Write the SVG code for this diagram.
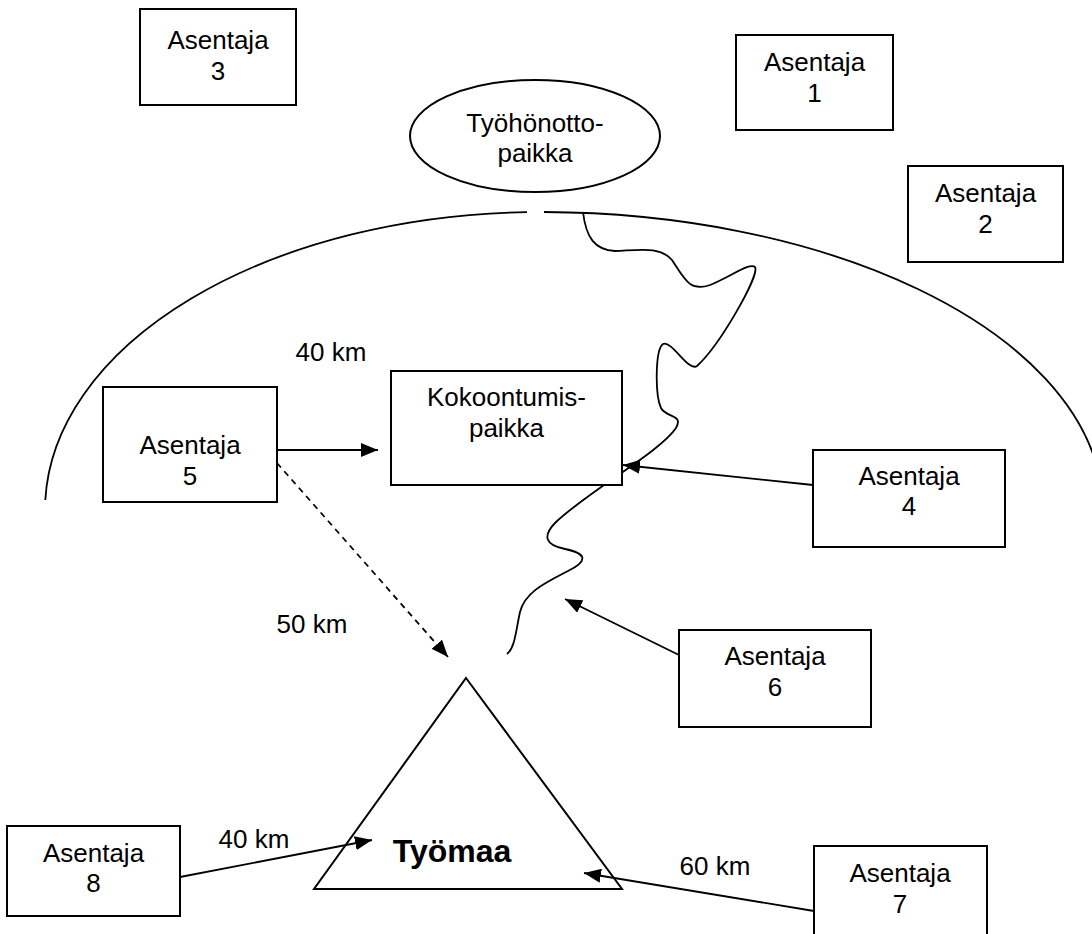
<svg xmlns="http://www.w3.org/2000/svg" width="1092" height="934" viewBox="0 0 1092 934">
<style>
.box{fill:#fff;stroke:#000;stroke-width:2}
.ln{fill:none;stroke:#000;stroke-width:1.8}
.t{font-family:"Liberation Sans",Arial,sans-serif;font-size:26px;fill:#000;text-anchor:middle}
.b{font-family:"Liberation Sans",Arial,sans-serif;font-size:32px;font-weight:bold;fill:#000;text-anchor:middle}
</style>
<defs>
<marker id="ah" markerUnits="userSpaceOnUse" markerWidth="18" markerHeight="14" refX="17" refY="7" orient="auto">
<path d="M0,0 L17,7 L0,14 z" fill="#000"/>
</marker>
</defs>
<rect width="1092" height="934" fill="#fff"/>
<g id="region">
<path class="ln" d="M 45.3 500 A 495 298 0 0 1 527 212.1"/>
<path class="ln" d="M 544 212 A 563 298 0 0 1 1100 479"/>
<path class="ln" d="M 583 212 C 586 238, 595 250, 615 251 C 640 250, 660 246, 672 260 C 685 280, 690 292, 710 285 C 730 277, 750 262, 755 267 C 760 275, 720 345, 697 366 C 688 372, 672 340, 663 344 C 655 350, 655 395, 661 408 C 666 418, 684 414, 676 428 C 660 452, 590 490, 556 522 C 542 536, 545 545, 565 549 C 585 553, 590 560, 568 571 C 545 583, 525 592, 520 612 C 516 630, 515 648, 507 654"/>
</g>
<g id="tyohonottopaikka">
<ellipse class="box" cx="535" cy="136" rx="125" ry="56"/>
<text class="t" x="535" y="132">Työhönotto-</text>
<text class="t" x="535" y="162">paikka</text>
</g>
<g id="asentaja3">
<rect class="box" x="140" y="9" width="156" height="96"/>
<text class="t" x="218" y="49">Asentaja</text>
<text class="t" x="218" y="80">3</text>
</g>
<g id="asentaja1">
<rect class="box" x="736" y="35" width="157" height="95"/>
<text class="t" x="814.5" y="71">Asentaja</text>
<text class="t" x="814.5" y="102">1</text>
</g>
<g id="asentaja2">
<rect class="box" x="908" y="166" width="155" height="96"/>
<text class="t" x="985.5" y="202">Asentaja</text>
<text class="t" x="985.5" y="233">2</text>
</g>
<g id="kokoontumispaikka">
<rect class="box" x="391" y="371" width="231" height="114"/>
<text class="t" x="506.5" y="406">Kokoontumis-</text>
<text class="t" x="506.5" y="437">paikka</text>
</g>
<g id="asentaja5">
<rect class="box" x="103" y="387" width="174" height="115"/>
<text class="t" x="190" y="454">Asentaja</text>
<text class="t" x="190" y="485">5</text>
</g>
<g id="asentaja4">
<rect class="box" x="813" y="450" width="192" height="97"/>
<text class="t" x="909" y="485">Asentaja</text>
<text class="t" x="909" y="515">4</text>
</g>
<g id="asentaja6">
<rect class="box" x="679" y="630" width="192" height="97"/>
<text class="t" x="775" y="665">Asentaja</text>
<text class="t" x="775" y="696">6</text>
</g>
<g id="tyomaa">
<path class="box" d="M 466 678 L 622 889 L 314 889 Z"/>
<text class="b" x="452" y="862">Työmaa</text>
</g>
<g id="asentaja8">
<rect class="box" x="7" y="826" width="173" height="90"/>
<text class="t" x="93.5" y="862">Asentaja</text>
<text class="t" x="93.5" y="892">8</text>
</g>
<g id="asentaja7">
<rect class="box" x="814" y="846" width="173" height="97"/>
<text class="t" x="900" y="882">Asentaja</text>
<text class="t" x="900" y="913">7</text>
</g>
<g id="connectors">
<line class="ln" x1="277" y1="450" x2="378" y2="450" marker-end="url(#ah)"/>
<line class="ln" x1="277" y1="463" x2="448" y2="657" stroke-dasharray="6 5" marker-end="url(#ah)"/>
<line class="ln" x1="813" y1="485" x2="623" y2="465" marker-end="url(#ah)"/>
<line class="ln" x1="679" y1="655" x2="565" y2="599" marker-end="url(#ah)"/>
<line class="ln" x1="180" y1="877" x2="372" y2="840" marker-end="url(#ah)"/>
<line class="ln" x1="814" y1="911" x2="584" y2="873" marker-end="url(#ah)"/>
</g>
<g id="labels">
<text class="t" x="331" y="361">40 km</text>
<text class="t" x="312" y="633">50 km</text>
<text class="t" x="254" y="848">40 km</text>
<text class="t" x="715" y="875">60 km</text>
</g>
</svg>
